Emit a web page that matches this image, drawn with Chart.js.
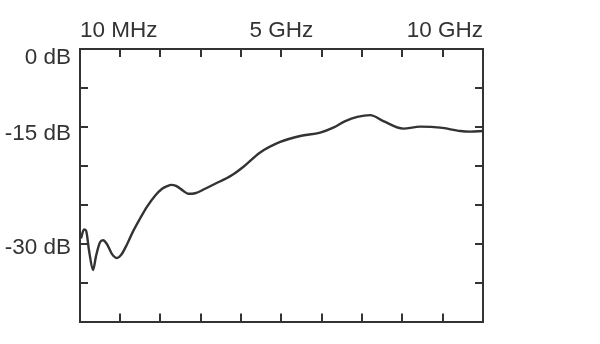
<!DOCTYPE html>
<html><head><meta charset="utf-8">
<script src="https://cdn.jsdelivr.net/npm/chart.js@4.4.1/dist/chart.umd.min.js"></script>
<style>html,body{margin:0;padding:0;background:#fff;}</style>
</head><body>
<canvas id="c" width="600" height="344"></canvas>
<script>
// ---- data ----
const freqGHz = [0.035, 0.109, 0.159, 0.233, 0.333, 0.407, 0.506, 0.581, 0.68, 0.804, 0.928, 1.027, 1.176, 1.325, 1.499, 1.673, 1.871, 2.045, 2.17, 2.27, 2.39, 2.566, 2.690, 2.864, 3.112, 3.360, 3.782, 4.055, 4.477, 4.973, 5.469, 5.965, 6.288, 6.586, 6.883, 7.206, 7.529, 8.025, 8.447, 8.943, 9.439, 9.687, 10.0];
const responseDb = [-28.70, -27.52, -27.65, -30.26, -32.87, -31.04, -29.22, -28.96, -29.48, -30.78, -31.30, -30.91, -29.48, -27.78, -26.09, -24.52, -23.09, -22.17, -21.83, -21.66, -21.80, -22.43, -22.83, -22.76, -22.17, -21.52, -20.35, -19.30, -17.39, -16.00, -15.22, -14.67, -13.70, -12.41, -11.59, -11.24, -12.41, -13.89, -13.50, -13.69, -14.36, -14.47, -14.36];
const xTickValues = [0.01, 1, 2, 3, 4, 5, 6, 7, 8, 9, 10];
const xLabelValues = [0.01, 5, 10];
const xLabels = ['10 MHz', '5 GHz', '10 GHz'];
const yLabelValues = [0, -15, -30];
const yLabels = ['0 dB', '-15 dB', '-30 dB'];
const yDivValues = [0, 1, 2, 3, 4, 5, 6, 7];

// ---- non-uniform dB axis of the original plot (label value -> fraction of plot height) ----
const dbAnchors = [{v: -30, d: 0.269}, {v: -15, d: 0.687}, {v: 0, d: 0.967}];

class PiecewiseScale extends Chart.LinearScale {
  static id = 'piecewise';
  static defaults = Chart.LinearScale.defaults;
  _seg(key, val) {
    const a = dbAnchors;
    let i = 0;
    if (val >= a[a.length - 1][key]) i = a.length - 2;
    else if (val <= a[0][key]) i = 0;
    else { while (i < a.length - 2 && val > a[i + 1][key]) i++; }
    return [a[i], a[i + 1]];
  }
  getPixelForValue(value) {
    if (value === null || value === undefined || isNaN(value)) return NaN;
    const [p, q] = this._seg('v', +value);
    return this.getPixelForDecimal(p.d + (value - p.v) * (q.d - p.d) / (q.v - p.v));
  }
  getValueForPixel(pixel) {
    const d = this.getDecimalForPixel(pixel);
    const [p, q] = this._seg('d', d);
    return p.v + (d - p.d) * (q.v - p.v) / (q.d - p.d);
  }
}
Chart.register(PiecewiseScale);

const ink = '#333';
const font = {family: "'Liberation Sans', Arial, sans-serif", size: 22.5};
const setTicks = (vals) => (s) => { s.ticks = vals.map(v => ({value: v})); };
const tickGrid = {display: true, drawOnChartArea: false, drawTicks: true, tickLength: -8, color: ink, lineWidth: 2};
const border = {display: true, color: ink, width: 2};

new Chart(document.getElementById('c'), {
  type: 'line',
  data: {
    datasets: [{
      data: freqGHz.map((f, i) => ({x: f, y: responseDb[i]})),
      borderColor: ink,
      borderWidth: 2.4,
      pointRadius: 0,
      cubicInterpolationMode: 'monotone',
      fill: false,
      xAxisID: 'x',
      yAxisID: 'y'
    }]
  },
  options: {
    responsive: false,
    animation: false,
    layout: {padding: 0},
    plugins: {legend: {display: false}, tooltip: {enabled: false}},
    scales: {
      x: {
        type: 'linear', position: 'top', min: 0.01, max: 10,
        afterBuildTicks: setTicks(xTickValues),
        afterFit: (s) => { s.height = 49; },
        ticks: {
          autoSkip: false, maxRotation: 0, align: 'inner', padding: 13, color: ink, font,
          callback: (v) => { const k = xLabelValues.indexOf(v); return k >= 0 ? xLabels[k] : ''; }
        },
        grid: tickGrid, border
      },
      xB: {
        type: 'linear', position: 'bottom', min: 0.01, max: 10,
        afterBuildTicks: setTicks(xTickValues),
        afterFit: (s) => { s.height = 20; },
        ticks: {display: false},
        grid: tickGrid, border
      },
      y: {
        type: 'piecewise', position: 'left', weight: 1, min: -40, max: 2,
        afterBuildTicks: setTicks(yLabelValues),
        afterFit: (s) => { s.width = 80; },
        ticks: {
          autoSkip: false, padding: 9, color: ink, font,
          callback: (v) => { const k = yLabelValues.indexOf(v); return k >= 0 ? yLabels[k] : ''; }
        },
        grid: {display: false, drawTicks: false, tickLength: 0},
        border: {display: false}
      },
      yDiv: {
        type: 'linear', position: 'left', weight: 0, min: 0, max: 7,
        afterBuildTicks: setTicks(yDivValues),
        afterFit: (s) => { s.width = 0; },
        ticks: {display: false},
        grid: tickGrid, border
      },
      yR: {
        type: 'linear', position: 'right', min: 0, max: 7,
        afterBuildTicks: setTicks(yDivValues),
        afterFit: (s) => { s.width = 117; },
        ticks: {display: false},
        grid: tickGrid, border
      }
    }
  }
});
</script>
</body></html>
